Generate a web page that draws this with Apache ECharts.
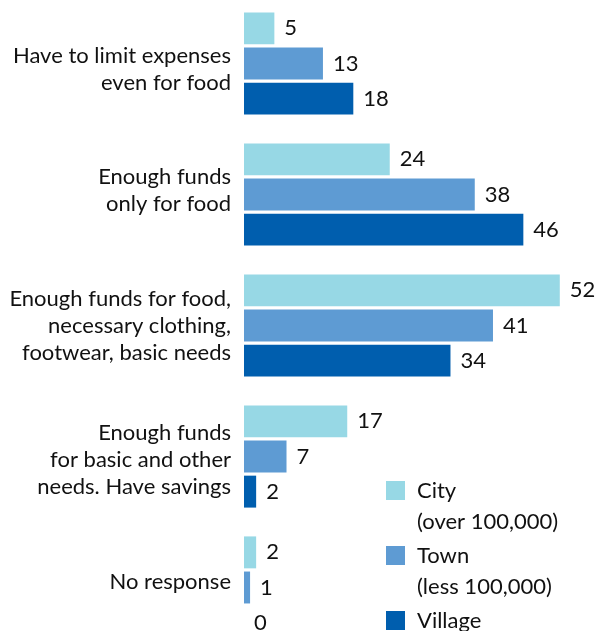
<!DOCTYPE html>
<html>
<head>
<meta charset="utf-8">
<style>
  html, body { margin: 0; padding: 0; background: #ffffff; }
  #chart { width: 595px; height: 631px; }
</style>
<script src="https://cdn.jsdelivr.net/npm/echarts@6/dist/echarts.min.js"></script>
</head>
<body>
<div id="chart"></div>
<script>
// Financial situation of households by settlement type (%)
const categories = [
  'Have to limit expenses\neven for food',
  'Enough funds\nonly for food',
  'Enough funds for food,\nnecessary clothing,\nfootwear, basic needs',
  'Enough funds\nfor basic and other\nneeds. Have savings',
  'No response'
];
const seriesNames = ['City', 'Town', 'Village'];
const seriesNotes = ['(over 100,000)', '(less 100,000)', ''];
const cityValues = [5, 24, 52, 17, 2];
const townValues = [13, 38, 41, 7, 1];
const villageValues = [18, 46, 34, 2, 0];

const colors = ['#97d8e5', '#5e9bd3', '#005eae'];
const FONT = 'Lato, "Open Sans", sans-serif';
const FS = 22;

// small vertical nudges for the category captions: [space above, space below]
const captionPad = [[12, 0], [0, 8], [0, 0], [6, 0], [0, 12]];

const chart = echarts.init(document.getElementById('chart'));

const valueLabel = {
  show: true,
  position: 'right',
  distance: 10,
  color: '#111',
  fontSize: FS,
  fontFamily: FONT
};

const seriesData = [cityValues, townValues, villageValues];

// rich styles: caption lines plus thin spacer lines
const captionRich = {
  t: { fontSize: FS, lineHeight: 27, color: '#111', fontFamily: FONT, align: 'right' }
};
captionPad.flat().forEach(h => {
  if (h) captionRich['g' + h] = { fontSize: 1, lineHeight: h, height: h };
});

function formatCaption(value, index) {
  const [above, below] = captionPad[index];
  let s = value.split('\n').map(line => '{t|' + line + '}').join('\n');
  if (above) s = '{g' + above + '| }\n' + s;
  if (below) s = s + '\n{g' + below + '| }';
  return s;
}

chart.setOption({
  animation: false,
  backgroundColor: '#ffffff',
  grid: {
    left: 244,
    right: 17,
    top: -2,
    bottom: -22,
    containLabel: false,
    outerBoundsMode: 'none'
  },
  xAxis: {
    type: 'value',
    min: 0,
    max: 55,
    show: false
  },
  yAxis: {
    type: 'category',
    data: categories,
    inverse: true,
    axisLine: { show: false },
    axisTick: { show: false },
    splitLine: { show: false },
    axisLabel: {
      margin: 13,
      fontSize: FS,
      lineHeight: 27,
      color: '#111',
      fontFamily: FONT,
      align: 'right',
      formatter: formatCaption,
      rich: captionRich
    }
  },
  legend: {
    orient: 'vertical',
    left: 386,
    top: 479.5,
    height: 170,
    padding: 0,
    itemWidth: 19,
    itemHeight: 19,
    itemGap: 43,
    icon: 'rect',
    data: seriesNames,
    textStyle: {
      fontSize: FS,
      lineHeight: 19,
      color: '#111',
      fontFamily: FONT,
      padding: [0, 0, 0, 7]
    }
  },
  graphic: seriesNotes.map((note, i) => note ? {
    type: 'text',
    left: 417,
    top: 490.5 + i * 65 + 32.5 - 12,
    style: {
      text: note,
      fontSize: FS,
      fontFamily: FONT,
      fill: '#111'
    }
  } : null).filter(Boolean),
  series: seriesNames.map((name, i) => ({
    name: name,
    type: 'bar',
    data: seriesData[i],
    barGap: '10%',
    barCategoryGap: '22%',
    itemStyle: { color: colors[i] },
    label: valueLabel
  }))
});
</script>
</body>
</html>
